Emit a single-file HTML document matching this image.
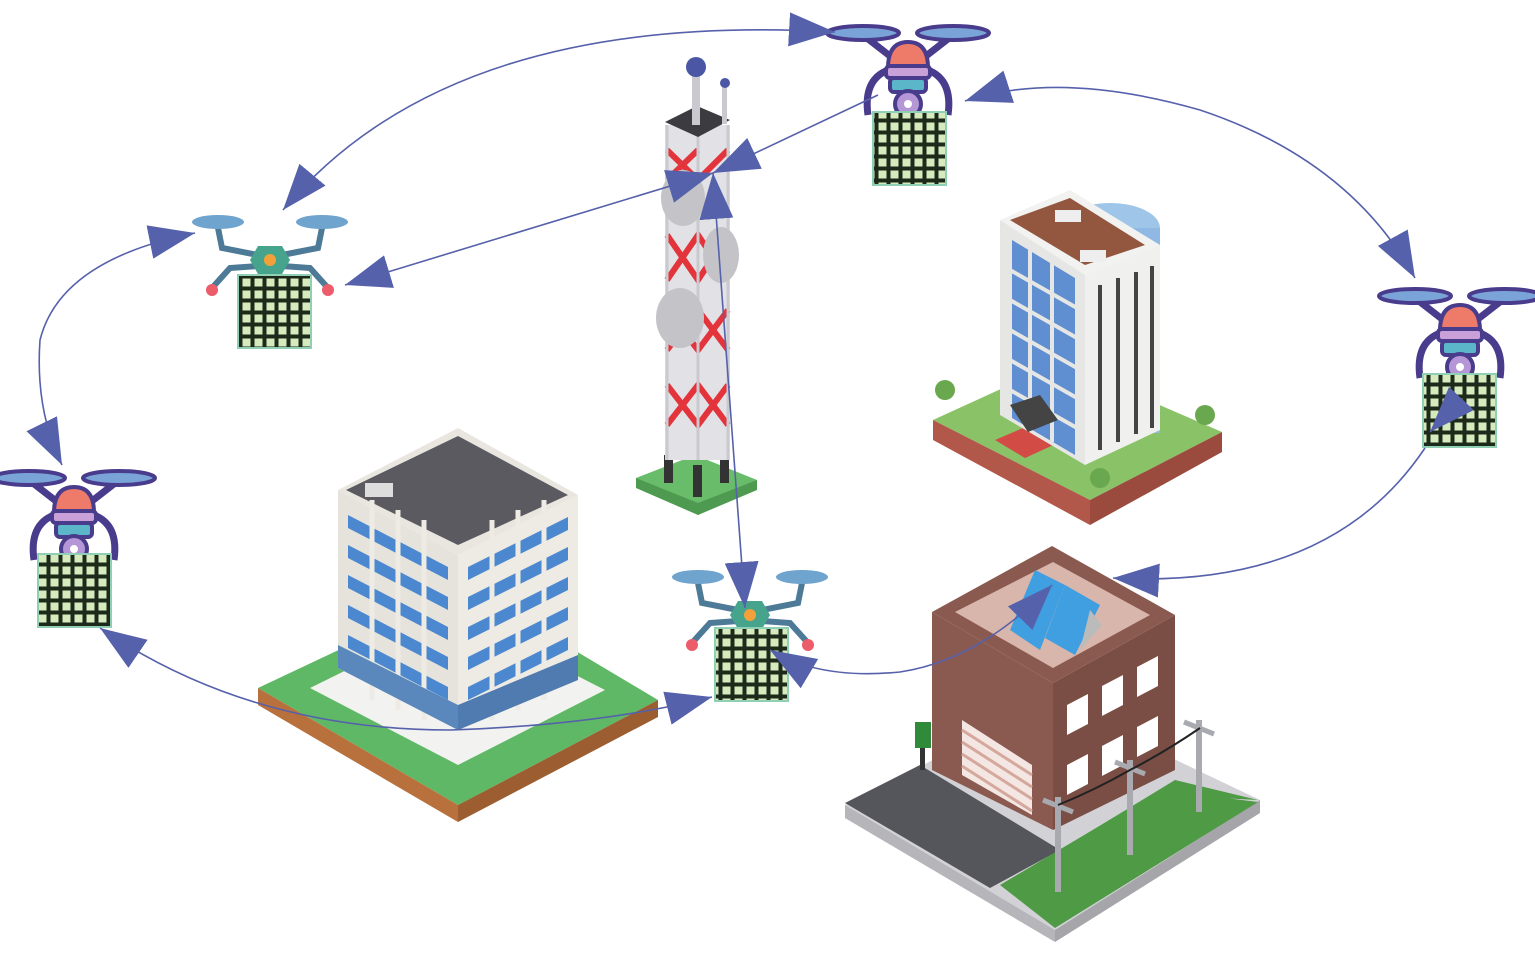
<!DOCTYPE html>
<html><head><meta charset="utf-8"><style>html,body{margin:0;padding:0;background:#fff}svg{display:block}</style></head>
<body>
<svg width="1535" height="961" viewBox="0 0 1535 961" xmlns="http://www.w3.org/2000/svg">
<defs>
<pattern id="grid" width="12" height="12" patternUnits="userSpaceOnUse">
<rect width="12" height="12" fill="#1d2a1a"/><rect x="2.5" y="2.5" width="8" height="8" fill="#d6ebbd"/>
</pattern>
<marker id="ah" viewBox="0 0 46 34" refX="46" refY="17" markerWidth="46" markerHeight="34" markerUnits="userSpaceOnUse" orient="auto-start-reverse">
<path d="M0 0 L46 17 L0 34 Z" fill="#5661ab"/>
</marker>
<g id="pdrone">
<line x1="-45" y1="-25" x2="0" y2="10" stroke="#4a3c8c" stroke-width="7"/>
<line x1="45" y1="-25" x2="0" y2="10" stroke="#4a3c8c" stroke-width="7"/>
<ellipse cx="-45" cy="-27" rx="36" ry="7" fill="#7aa3d8" stroke="#4a3c8c" stroke-width="4"/>
<ellipse cx="45" cy="-27" rx="36" ry="7" fill="#7aa3d8" stroke="#4a3c8c" stroke-width="4"/>
<path d="M-20 10 Q-45 20 -40 55" fill="none" stroke="#4a3c8c" stroke-width="7"/>
<path d="M20 10 Q45 20 40 55" fill="none" stroke="#4a3c8c" stroke-width="7"/>
<path d="M-20 8 Q-20 -18 0 -18 Q20 -18 20 8 Z" fill="#ee7a6a" stroke="#4a3c8c" stroke-width="4"/>
<rect x="-22" y="6" width="44" height="12" rx="4" fill="#c9a0d8" stroke="#4a3c8c" stroke-width="4"/>
<rect x="-18" y="18" width="36" height="14" rx="4" fill="#5cb6c9" stroke="#4a3c8c" stroke-width="4"/>
<circle cx="0" cy="44" r="13" fill="#b596d6" stroke="#4a3c8c" stroke-width="4"/>
<circle cx="0" cy="44" r="4" fill="#fff"/>
</g>
<g id="tdrone">
<path d="M-52 -32 L-48 -12 L-12 -5 M52 -32 L48 -12 L12 -5" fill="none" stroke="#4d7a96" stroke-width="6"/>
<path d="M-12 6 L-40 8 L-58 28 M12 6 L40 8 L58 28" fill="none" stroke="#4d7a96" stroke-width="6"/>
<ellipse cx="-52" cy="-38" rx="26" ry="7" fill="#6fa4cf"/>
<ellipse cx="52" cy="-38" rx="26" ry="7" fill="#6fa4cf"/>
<polygon points="-12,-14 12,-14 20,0 12,14 -12,14 -20,0" fill="#46a48c"/>
<circle cx="0" cy="0" r="6" fill="#f2a13a"/>
<circle cx="-58" cy="30" r="6" fill="#ec5c6a"/>
<circle cx="58" cy="30" r="6" fill="#ec5c6a"/>
</g>
</defs>

<!-- Tower -->
<polygon points="636,478 695,455 757,480 698,515" fill="#69bd6a"/>
<polygon points="636,478 698,503 698,515 636,488" fill="#4e9a50"/>
<polygon points="698,503 757,480 757,490 698,515" fill="#4e9a50"/>
<rect x="664" y="455" width="9" height="28" fill="#333"/><rect x="693" y="465" width="9" height="32" fill="#333"/><rect x="720" y="455" width="9" height="28" fill="#333"/>
<rect x="665" y="125" width="65" height="335" fill="#e2e2e6"/>
<g stroke="#e3343c" stroke-width="6" fill="none">
<path d="M667 235 L698 280 L728 235 M667 280 L698 235 L728 280"/>
<path d="M667 310 L698 350 L728 310 M667 350 L698 310 L728 350"/>
<path d="M667 385 L698 425 L728 385 M667 425 L698 385 L728 425"/>
<path d="M667 150 L698 180 L728 150 M667 180 L698 150"/>
</g>
<g stroke="#c9c9cf" stroke-width="3"><line x1="698" y1="125" x2="698" y2="460"/><line x1="667" y1="125" x2="667" y2="460"/><line x1="728" y1="125" x2="728" y2="460"/></g>
<ellipse cx="683" cy="198" rx="22" ry="28" fill="#c4c4c8"/>
<ellipse cx="721" cy="255" rx="18" ry="28" fill="#c4c4c8"/>
<ellipse cx="680" cy="318" rx="24" ry="30" fill="#c4c4c8"/>
<polygon points="665,122 697,106 730,120 698,137" fill="#3c3b40"/>
<rect x="692" y="70" width="8" height="55" fill="#c9c9cf"/><circle cx="696" cy="67" r="10" fill="#4b57a5"/>
<rect x="722" y="86" width="5" height="38" fill="#c9c9cf"/><circle cx="725" cy="83" r="5" fill="#4b57a5"/>

<!-- Building 2 (top right) -->
<polygon points="933,420 1060,362 1222,432 1090,500" fill="#8ac267"/>
<polygon points="933,420 1090,500 1090,525 933,440" fill="#b2584a"/>
<polygon points="1090,500 1222,432 1222,452 1090,525" fill="#9b4a3e"/>
<polygon points="995,440 1030,425 1060,442 1025,458" fill="#d34b45"/>
<ellipse cx="1110" cy="228" rx="50" ry="25" fill="#9fc6e8"/>
<rect x="1060" y="228" width="100" height="205" fill="#8fb8e2"/>
<polygon points="1000,220 1085,270 1085,465 1000,415" fill="#e6e6e4"/>
<polygon points="1085,270 1160,245 1160,430 1085,465" fill="#f0f0ee"/>
<polygon points="1000,220 1070,190 1160,245 1085,275" fill="#f2f2f0"/>
<polygon points="1010,220 1070,198 1145,245 1085,265" fill="#93573f"/>
<rect x="1055" y="210" width="26" height="12" fill="#eee"/><rect x="1080" y="250" width="26" height="12" fill="#eee"/>
<g fill="#5f8fd0">
<polygon points="1012,240 1075,278 1075,455 1012,418"/>
</g>
<g stroke="#e6e6e4" stroke-width="4">
<line x1="1010" y1="270" x2="1077" y2="308"/><line x1="1010" y1="300" x2="1077" y2="338"/><line x1="1010" y1="330" x2="1077" y2="368"/><line x1="1010" y1="360" x2="1077" y2="398"/><line x1="1010" y1="390" x2="1077" y2="428"/>
<line x1="1030" y1="250" x2="1030" y2="430"/><line x1="1052" y1="262" x2="1052" y2="442"/>
</g>
<g stroke="#444" stroke-width="4">
<line x1="1100" y1="285" x2="1100" y2="450"/><line x1="1118" y1="278" x2="1118" y2="442"/><line x1="1136" y1="272" x2="1136" y2="434"/><line x1="1152" y1="266" x2="1152" y2="428"/>
</g>
<polygon points="1010,405 1040,395 1058,420 1028,432" fill="#444"/>
<g fill="#6aa84f"><circle cx="945" cy="390" r="10"/><circle cx="1205" cy="415" r="10"/><circle cx="1100" cy="478" r="10"/></g>

<!-- Building 1 (left) -->
<polygon points="258,688 470,588 658,700 458,805" fill="#5fb865"/>
<polygon points="258,688 458,805 458,822 258,705" fill="#b8713c"/>
<polygon points="458,805 658,700 658,717 458,822" fill="#9c5d30"/>
<polygon points="310,688 458,615 605,690 458,765" fill="#f2f2f0"/>
<polygon points="338,490 458,555 458,730 338,668" fill="#e6e3dc"/>
<polygon points="458,555 578,495 578,680 458,730" fill="#eeebe4"/>
<polygon points="338,490 458,428 578,495 458,555" fill="#e8e6df"/>
<polygon points="346,490 458,436 568,495 458,545" fill="#5b5a60"/>
<rect x="365" y="483" width="28" height="14" fill="#ddd"/>
<g fill="#4b88cf">
<polygon points="348,515 448,567 448,580 348,528"/><polygon points="348,545 448,597 448,610 348,558"/><polygon points="348,575 448,627 448,640 348,588"/><polygon points="348,605 448,657 448,670 348,618"/><polygon points="348,635 448,687 448,700 348,648"/>
<polygon points="468,567 568,517 568,530 468,580"/><polygon points="468,597 568,547 568,560 468,610"/><polygon points="468,627 568,577 568,590 468,640"/><polygon points="468,657 568,607 568,620 468,670"/><polygon points="468,687 568,637 568,650 468,700"/>
</g>
<g stroke="#eeebe4" stroke-width="5"><line x1="372" y1="500" x2="372" y2="700"/><line x1="398" y1="510" x2="398" y2="710"/><line x1="424" y1="520" x2="424" y2="720"/><line x1="492" y1="520" x2="492" y2="720"/><line x1="518" y1="510" x2="518" y2="710"/><line x1="544" y1="500" x2="544" y2="700"/></g>
<polygon points="338,668 458,730 458,705 338,645" fill="#5a88bd"/>
<polygon points="458,730 578,680 578,655 458,705" fill="#4f7bb0"/>

<!-- Building 3 (bottom right) -->
<polygon points="845,805 1050,700 1260,800 1055,930" fill="#d2d2d6"/>
<polygon points="845,805 1055,930 1055,942 845,818" fill="#b5b5ba"/>
<polygon points="1055,930 1260,800 1260,813 1055,942" fill="#a5a5aa"/>
<polygon points="845,803 920,765 1060,850 990,888" fill="#55555c"/>
<polygon points="1000,885 1160,790 1258,802 1055,928" fill="#4f9a45"/>
<polygon points="1060,850 1175,780 1258,800 1160,795" fill="#4f9a45"/>
<polygon points="932,612 1053,683 1053,830 932,770" fill="#8a5a50"/>
<polygon points="1053,683 1175,615 1175,770 1053,830" fill="#7a4e45"/>
<polygon points="932,612 1052,546 1175,615 1053,683" fill="#8a5a50"/>
<polygon points="955,612 1053,562 1150,615 1053,668" fill="#d9b6ab"/>
<polygon points="1035,570 1065,585 1040,650 1010,630" fill="#3f9fe0"/>
<polygon points="1065,585 1100,605 1075,655 1045,638" fill="#3f9fe0"/>
<polygon points="1090,610 1102,625 1080,650" fill="#bbb"/>
<polygon points="962,720 1032,765 1032,815 962,775" fill="#f4e6e2"/>
<g stroke="#d4a89c" stroke-width="3"><line x1="962" y1="730" x2="1032" y2="775"/><line x1="962" y1="742" x2="1032" y2="787"/><line x1="962" y1="754" x2="1032" y2="799"/><line x1="962" y1="766" x2="1032" y2="811"/></g>
<g fill="#fff"><polygon points="1067,705 1088,694 1088,724 1067,735"/><polygon points="1102,686 1123,675 1123,705 1102,716"/><polygon points="1137,667 1158,656 1158,686 1137,697"/><polygon points="1067,765 1088,754 1088,784 1067,795"/><polygon points="1137,727 1158,716 1158,746 1137,757"/><polygon points="1102,746 1123,735 1123,765 1102,776"/></g>
<rect x="915" y="722" width="16" height="26" fill="#2f8a3a"/><rect x="920" y="748" width="5" height="22" fill="#333"/>
<g fill="#a9a9b0"><rect x="1055" y="797" width="6" height="95"/><rect x="1127" y="760" width="6" height="95"/><rect x="1196" y="720" width="6" height="92"/></g>
<g stroke="#a9a9b0" stroke-width="5"><line x1="1043" y1="800" x2="1073" y2="812"/><line x1="1115" y1="762" x2="1145" y2="774"/><line x1="1184" y1="722" x2="1214" y2="734"/></g>
<path d="M1058 805 Q1095 790 1130 770 Q1165 752 1200 728" stroke="#222" stroke-width="2" fill="none"/>

<!-- Drones -->
<use href="#pdrone" x="908" y="60"/>
<rect x="873" y="112" width="73" height="73" fill="url(#grid)" stroke="#8fcfb4" stroke-width="2"/>
<use href="#tdrone" x="270" y="260"/>
<rect x="238" y="275" width="73" height="73" fill="url(#grid)" stroke="#8fcfb4" stroke-width="2"/>
<use href="#pdrone" x="74" y="505"/>
<rect x="38" y="554" width="73" height="73" fill="url(#grid)" stroke="#8fcfb4" stroke-width="2"/>
<use href="#pdrone" x="1460" y="323"/>
<rect x="1423" y="374" width="73" height="73" fill="url(#grid)" stroke="#8fcfb4" stroke-width="2"/>
<use href="#tdrone" x="750" y="615"/>
<rect x="715" y="628" width="73" height="73" fill="url(#grid)" stroke="#8fcfb4" stroke-width="2"/>

<!-- Connectors -->
<g fill="none" stroke="#5661ab" stroke-width="1.6">
<path d="M283 210 Q450 10 835 32" marker-start="url(#ah)" marker-end="url(#ah)"/>
<path d="M965 101 Q1060 70 1200 110 Q1350 160 1415 278" marker-start="url(#ah)" marker-end="url(#ah)"/>
<path d="M195 233 Q60 260 40 340 Q35 410 62 465" marker-start="url(#ah)" marker-end="url(#ah)"/>
<path d="M100 628 Q250 730 450 730 Q600 725 712 697" marker-start="url(#ah)" marker-end="url(#ah)"/>
<path d="M345 285 L713 173" marker-start="url(#ah)" marker-end="url(#ah)"/>
<path d="M878 95 L713 173" marker-end="url(#ah)"/>
<path d="M745 608 L713 173" marker-start="url(#ah)" marker-end="url(#ah)"/>
<path d="M1425 448 Q1330 590 1113 578" marker-end="url(#ah)"/>
<path d="M770 650 Q820 680 900 672 Q980 660 1052 585" marker-start="url(#ah)" marker-end="url(#ah)"/>
<path d="M1460 400 L1430 432" marker-end="url(#ah)"/>
</g>
</svg>
</body></html>
